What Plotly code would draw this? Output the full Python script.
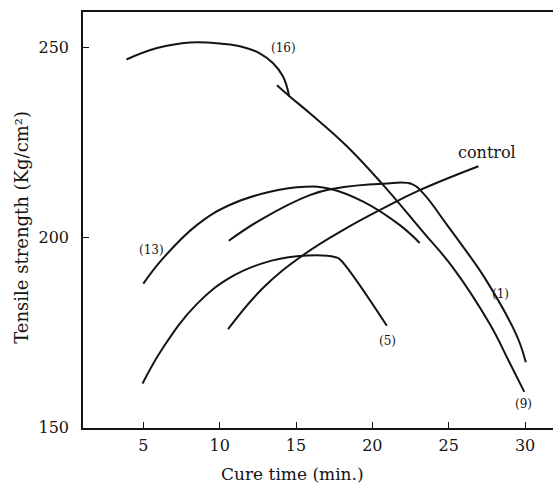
import plotly.graph_objects as go

# Cure time (min.) vs tensile strength (Kg/cm2)
c16_x = [3.9, 5.9, 8.05, 10.25, 11.5, 12.6, 13.5, 14.15, 14.55]
c16_y = [246.9, 249.9, 251.4, 251.0, 250.2, 248.6, 245.9, 242.4, 237.3]

c9_x = [13.75, 14.55, 16.1, 18.3, 20.7, 23.3, 25.3, 27.7, 29.0, 29.95]
c9_y = [240.1, 237.3, 232.1, 224.2, 213.9, 201.6, 192.0, 177.2, 167.0, 159.4]

c1_x = [10.6, 12.85, 15.9, 17.45, 20.7, 22.6, 23.35, 24.9, 26.85, 27.5, 28.8, 29.6, 30.05]
c1_y = [199.2, 205.1, 211.2, 212.9, 214.2, 214.1, 211.6, 203.3, 192.5, 188.5, 179.5, 172.8, 167.2]

c13_x = [5.0, 6.3, 8.5, 10.65, 13.3, 15.6, 17.2, 19.4, 21.8, 23.1]
c13_y = [187.9, 194.6, 203.3, 208.6, 212.1, 213.4, 212.9, 209.5, 203.3, 198.6]

ctrl_x = [10.55, 12.85, 15.5, 18.3, 20.7, 23.1, 26.95]
ctrl_y = [175.9, 186.8, 195.5, 202.5, 207.7, 212.5, 218.8]

c5_x = [4.95, 6.3, 8.5, 10.65, 12.85, 15.05, 17.65, 17.9, 20.95]
c5_y = [161.6, 171.1, 182.5, 189.4, 193.3, 195.1, 194.8, 194.2, 176.8]

labels = ["(16)", "(13)", "control", "(1)", "(5)", "(9)"]
label_x = [14.15, 5.55, 27.5, 28.4, 21.0, 29.93]
label_y = [250.0, 196.8, 222.5, 185.1, 172.7, 156.3]

x_ticks = [5, 10, 15, 20, 25, 30]
y_ticks = [150, 200, 250]

FONT = "DejaVu Serif, Liberation Serif, serif"
INK = "#141414"

fig = go.Figure()
for xs, ys in [(c16_x, c16_y), (c9_x, c9_y), (c1_x, c1_y), (c13_x, c13_y),
               (ctrl_x, ctrl_y), (c5_x, c5_y)]:
    fig.add_trace(go.Scatter(x=xs, y=ys, mode="lines",
                             line=dict(color=INK, width=2, shape="spline", smoothing=1.2),
                             showlegend=False, hoverinfo="skip"))

for t, lx, ly in zip(labels, label_x, label_y):
    fig.add_annotation(x=lx, y=ly, text=t, showarrow=False,
                       font=dict(family=FONT, size=16 if t == "control" else 12, color=INK))

fig.add_annotation(x=14.8, xref="x", y=0, yref="paper", yshift=-46, yanchor="middle",
                   text="Cure time (min.)", showarrow=False,
                   font=dict(family=FONT, size=17, color=INK))
fig.add_annotation(x=0, xref="paper", xshift=-61, xanchor="center", y=202.6, yref="y",
                   text="Tensile strength (Kg/cm²)", textangle=-90, showarrow=False,
                   font=dict(family=FONT, size=18, color=INK))

fig.update_layout(
    width=556, height=488,
    margin=dict(l=83, r=3, t=12, b=60),
    paper_bgcolor="white", plot_bgcolor="white",
    font=dict(family=FONT, color=INK),
)
fig.update_xaxes(range=[1.05, 31.83], tickvals=x_ticks, ticks="inside", ticklen=6,
                 tickcolor=INK, showline=True, linecolor=INK, linewidth=1.5, mirror=True,
                 showgrid=False, zeroline=False, tickfont=dict(family=FONT, size=16, color=INK),
                 ticklabelstandoff=2)
fig.update_yaxes(range=[149.9, 259.4], tickvals=y_ticks, ticks="inside", ticklen=6,
                 tickcolor=INK, showline=True, linecolor=INK, linewidth=1.5,
                 showgrid=False, zeroline=False, tickfont=dict(family=FONT, size=16, color=INK),
                 ticklabelstandoff=9)

fig.write_html("out.html")
